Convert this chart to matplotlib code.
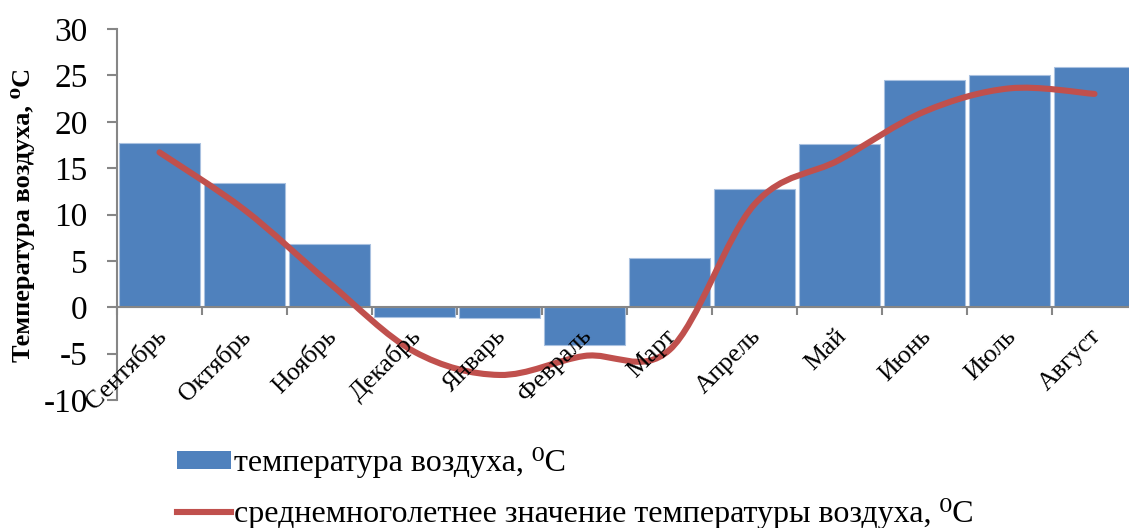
import matplotlib
matplotlib.use("Agg")
import matplotlib.pyplot as plt
from matplotlib.path import Path
from matplotlib.patches import PathPatch, Patch
from matplotlib.lines import Line2D
from matplotlib.ticker import FixedLocator
from matplotlib.transforms import ScaledTranslation

months = ["Сентябрь", "Октябрь", "Ноябрь", "Декабрь", "Январь", "Февраль",
          "Март", "Апрель", "Май", "Июнь", "Июль", "Август"]
temp_actual = [17.7, 13.4, 6.8, -1.0, -1.2, -4.05, 5.35, 12.8, 17.6, 24.5, 25.0, 25.9]
temp_mean = [16.7, 10.5, 2.6, -4.8, -7.3, -5.25, -4.6, 11.1, 15.9, 21.1, 23.6, 23.0]
yticks = [-10, -5, 0, 5, 10, 15, 20, 25, 30]

label_bar = "температура воздуха, ⁰С"
label_line = "среднемноголетнее значение температуры воздуха, ⁰С"
ylabel = "Температура воздуха, ⁰С"

SERIF = ["Liberation Serif", "DejaVu Serif"]
plt.rcParams["font.family"] = SERIF

BLUE = "#4F81BD"
RED = "#C0504D"
GRAY = "#868686"

W, H = 1129, 528
AX_L, AX_R, AX_T, AX_B = 117, 1137, 29, 400
fig = plt.figure(figsize=(W / 100, H / 100), dpi=100)
ax = fig.add_axes([AX_L / W, 1 - AX_B / H, (AX_R - AX_L) / W, (AX_B - AX_T) / H])
ax.set_axisbelow(False)

x = list(range(len(months)))
ax.bar(x, temp_actual, width=0.95, color=BLUE, edgecolor="#A9C1E0", linewidth=0.8, zorder=2)

# Smoothed line (Excel-style) drawn as cubic Bezier path
pts = list(zip(x, temp_mean))
n = len(pts)
verts = [pts[0]]
codes = [Path.MOVETO]
for i in range(n - 1):
    p0 = pts[i - 1] if i > 0 else pts[i]
    p1 = pts[i]
    p2 = pts[i + 1]
    p3 = pts[i + 2] if i + 2 < n else pts[i + 1]
    c1 = (p1[0] + (p2[0] - p0[0]) / 6, p1[1] + (p2[1] - p0[1]) / 6)
    c2 = (p2[0] - (p3[0] - p1[0]) / 6, p2[1] - (p3[1] - p1[1]) / 6)
    verts += [c1, c2, p2]
    codes += [Path.CURVE4] * 3
ax.add_patch(PathPatch(Path(verts, codes), fill=False, edgecolor=RED, linewidth=4.4,
                       capstyle="round", joinstyle="round", zorder=2.3))

ax.set_xlim(-0.5, len(months) - 0.5)
ax.set_ylim(-10, 30)

for s in ["top", "right"]:
    ax.spines[s].set_visible(False)
ax.spines["bottom"].set_position(("data", 0))
ax.spines["bottom"].set_color(GRAY)
ax.spines["bottom"].set_linewidth(1.5)
ax.spines["left"].set_color(GRAY)
ax.spines["left"].set_linewidth(1.5)
ax.spines["bottom"].set_zorder(2.1)

ax.set_yticks(yticks)
ax.set_yticklabels([str(v) for v in yticks])
ax.tick_params(axis="y", direction="out", length=7, width=1.5, color=GRAY,
               labelsize=24, pad=14)

ax.set_xticks(x)
ax.set_xticklabels(months, rotation=45, rotation_mode="anchor", ha="right", va="center")
ax.xaxis.set_minor_locator(FixedLocator([i + 0.5 for i in x[:-1]] + [-0.5]))
ax.tick_params(axis="x", which="major", length=0, labelsize=18.5, pad=18.5)
ax.tick_params(axis="x", which="minor", direction="out", length=6, width=1.5, color=GRAY)
shift = ScaledTranslation(3 / 100, 0, fig.dpi_scale_trans)
for lbl in ax.get_xticklabels():
    lbl.set_transform(lbl.get_transform() + shift)

ax.set_ylabel(ylabel, fontsize=19, fontweight="bold")
ax.yaxis.set_label_coords((35 - AX_L) / (AX_R - AX_L), 0.5)

handles = [Patch(facecolor=BLUE, edgecolor="none", label=label_bar),
           Line2D([0], [0], color=RED, linewidth=4.4, label=label_line)]
fig.legend(handles=handles, loc="center left", bbox_to_anchor=(177 / W, 1 - 488 / H),
           frameon=False, fontsize=23, handlelength=1.7, handletextpad=0.1,
           handleheight=0.5, labelspacing=0.62, borderpad=0, borderaxespad=0)

fig.savefig("out.png", dpi=100)
